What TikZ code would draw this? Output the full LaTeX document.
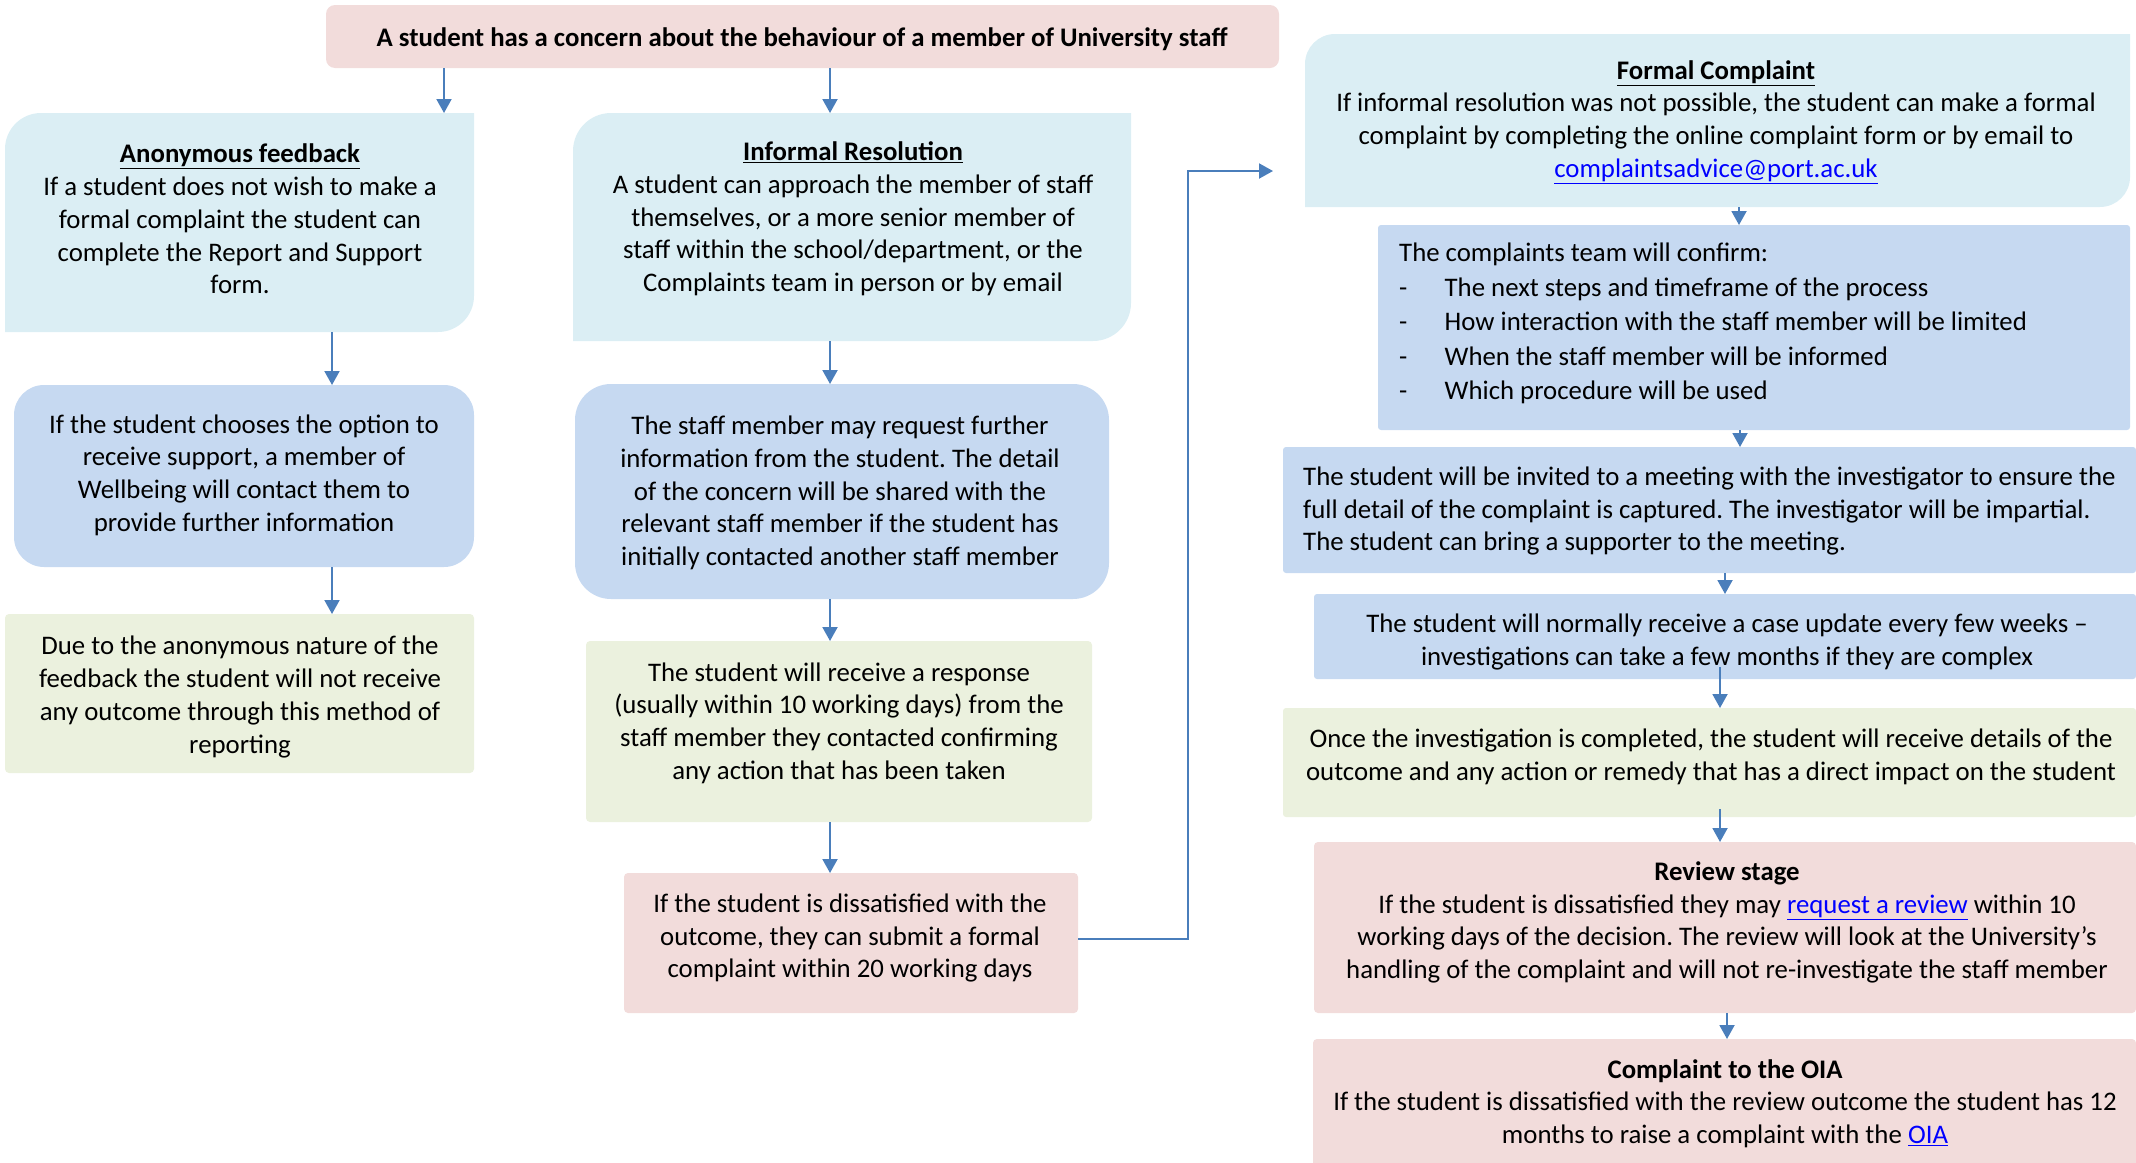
\documentclass[tikz,border=0pt]{standalone}
\usepackage{fontspec}
\setmainfont{Carlito}
\usetikzlibrary{arrows.meta}
\definecolor{hdrblue}{RGB}{219,238,244}
\definecolor{midblue}{RGB}{198,217,241}
\definecolor{pgreen}{RGB}{235,241,222}
\definecolor{ppink}{RGB}{242,220,219}
\definecolor{arrblue}{RGB}{74,126,187}
\definecolor{linkblue}{RGB}{0,0,255}
\newcommand{\lnk}[1]{\textcolor{linkblue}{\underline{#1}}}
\newcommand{\diagfill}[3]{%
  \fill[#2] (#1.south west) -- ([yshift=-#3pt]#1.north west)
    arc[start angle=180,end angle=90,radius=#3]
    -- (#1.north east) -- ([yshift=#3pt]#1.south east)
    arc[start angle=0,end angle=-90,radius=#3] -- cycle;}
\newcommand{\itm}{\makebox[45.5pt][l]{-}}
\frenchspacing
\begin{document}
\begin{tikzpicture}[x=1pt,y=1pt,
  box/.style={anchor=north west, inner sep=0pt, outer sep=0pt, draw=none},
  txt/.style={align=center, font=\fontsize{26.8}{32.7}\selectfont, inner sep=0pt},
  arr/.style={draw=arrblue, line width=2pt, -{Triangle[width=15pt,length=14pt]}},
]
\useasboundingbox (0,0) rectangle (2136,-1162);

% box shapes
\node[box, minimum width=953pt, minimum height=63pt] (top) at (326,-5) {};
\node[box, minimum width=469pt, minimum height=219pt] (anon) at (5,-113) {};
\node[box, minimum width=558pt, minimum height=228pt] (inf) at (573,-113) {};
\node[box, minimum width=460pt, minimum height=182pt] (support) at (14,-385) {};
\node[box, minimum width=534pt, minimum height=215pt] (staff) at (575,-384) {};
\node[box, minimum width=469pt, minimum height=159pt] (anonout) at (5,-614) {};
\node[box, minimum width=506pt, minimum height=181pt] (response) at (586,-641) {};
\node[box, minimum width=454pt, minimum height=140pt] (diss) at (624,-873) {};
\node[box, minimum width=825pt, minimum height=173pt] (formal) at (1305,-34) {};
\node[box, minimum width=752pt, minimum height=205pt] (team) at (1378,-225) {};
\node[box, minimum width=853pt, minimum height=126pt] (meeting) at (1283,-447) {};
\node[box, minimum width=822pt, minimum height=85pt] (update) at (1314,-594) {};
\node[box, minimum width=853pt, minimum height=109pt] (outcome) at (1283,-708) {};
\node[box, minimum width=822pt, minimum height=171pt] (review) at (1314,-842) {};
\node[box, minimum width=823pt, minimum height=140pt] (oia) at (1313,-1039) {};

% fills
\fill[ppink, rounded corners=9pt] (top.south west) rectangle (top.north east);
\diagfill{anon}{hdrblue}{36}
\diagfill{inf}{hdrblue}{38}
\fill[midblue, rounded corners=30pt] (support.south west) rectangle (support.north east);
\fill[midblue, rounded corners=36pt] (staff.south west) rectangle (staff.north east);
\fill[pgreen, rounded corners=4pt] (anonout.south west) rectangle (anonout.north east);
\fill[pgreen, rounded corners=4pt] (response.south west) rectangle (response.north east);
\fill[ppink, rounded corners=4pt] (diss.south west) rectangle (diss.north east);
\diagfill{formal}{hdrblue}{30}
\fill[midblue, rounded corners=3pt] (team.south west) rectangle (team.north east);
\fill[midblue, rounded corners=3pt] (meeting.south west) rectangle (meeting.north east);
\fill[midblue, rounded corners=3pt] (update.south west) rectangle (update.north east);
\fill[pgreen, rounded corners=3pt] (outcome.south west) rectangle (outcome.north east);
\fill[ppink, rounded corners=4pt] (review.south west) rectangle (review.north east);
\fill[ppink, rounded corners=4pt] (oia.south west) rectangle (oia.north east);

% texts
\node[txt] (toptxt) at (802,-39) {\bfseries A student has a concern about the behaviour of a member of University staff};
\node[txt] (anontxt) at (240,-219) {\textbf{\underline{Anonymous feedback}}\\If a student does not wish to make a\\formal complaint the student can\\complete the Report and Support\\form.};
\node[txt] (inftxt) at (853,-219) {\textbf{\underline{Informal Resolution}}\\A student can approach the member of staff\\themselves, or a more senior member of\\staff within the school/department, or the\\Complaints team in person or by email};
\node[txt] (supporttxt) at (244,-475) {If the student chooses the option to\\receive support, a member of\\Wellbeing will contact them to\\provide further information};
\node[txt] (stafftxt) at (840,-493) {The staff member may request further\\information from the student. The detail\\of the concern will be shared with the\\relevant staff member if the student has\\initially contacted another staff member};
\node[txt] (anonouttxt) at (240,-697) {Due to the anonymous nature of the\\feedback the student will not receive\\any outcome through this method of\\reporting};
\node[txt] (responsetxt) at (839,-723) {The student will receive a response\\(usually within 10 working days) from the\\staff member they contacted confirming\\any action that has been taken};
\node[txt] (disstxt) at (850,-938) {If the student is dissatisfied with the\\outcome, they can submit a formal\\complaint within 20 working days};
\node[txt] (formaltxt) at (1716,-122) {\textbf{\underline{Formal Complaint}}\\If informal resolution was not possible, the student can make a formal\\complaint by completing the online complaint form or by email to\\\lnk{complaintsadvice@port.ac.uk}};
\node[txt, align=left, anchor=west, font=\fontsize{26.8}{34.6}\selectfont] (teamtxt) at (1399,-323.5) {The complaints team will confirm:\\\itm The next steps and timeframe of the process\\\itm How interaction with the staff member will be limited\\\itm When the staff member will be informed\\\itm Which procedure will be used};
\node[txt, align=left, anchor=west] (meetingtxt) at (1303,-511) {The student will be invited to a meeting with the investigator to ensure the\\full detail of the complaint is captured. The investigator will be impartial.\\The student can bring a supporter to the meeting.};
\node[txt] (updatetxt) at (1727,-642) {The student will normally receive a case update every few weeks --\\investigations can take a few months if they are complex};
\node[txt] (outcometxt) at (1711,-756.5) {Once the investigation is completed, the student will receive details of the\\outcome and any action or remedy that has a direct impact on the student};
\node[txt] (reviewtxt) at (1727,-922.5) {\textbf{Review stage}\\If the student is dissatisfied they may \lnk{request a review} within 10\\working days of the decision. The review will look at the University’s\\handling of the complaint and will not re-investigate the staff member};
\node[txt] (oiatxt) at (1725,-1103.5) {\textbf{Complaint to the OIA}\\If the student is dissatisfied with the review outcome the student has 12\\months to raise a complaint with the \lnk{OIA}};

% connector x positions
\coordinate (ax1) at (444,0);
\coordinate (ax2) at (830,0);
\coordinate (ax3) at (332,0);
\coordinate (ax4) at (1739,0);
\coordinate (ax5) at (1740,0);
\coordinate (ax6) at (1725,0);
\coordinate (ax7) at (1720,0);
\coordinate (ax8) at (1727,0);
\coordinate (bend) at (1188,-171);

% connectors
\draw[arr] (top.south -| ax1) -- (anon.north -| ax1);
\draw[arr] (top.south -| ax2) -- (inf.north -| ax2);
\draw[arr] (anon.south -| ax3) -- (support.north -| ax3);
\draw[arr] (support.south -| ax3) -- (anonout.north -| ax3);
\draw[arr] (inf.south -| ax2) -- (staff.north -| ax2);
\draw[arr] (staff.south -| ax2) -- (response.north -| ax2);
\draw[arr] (response.south -| ax2) -- (diss.north -| ax2);
\draw[arr, shorten >=32pt] ([yshift=4pt]diss.east) -| (bend) -- (formal.west |- bend);
\draw[arr] (formal.south -| ax4) -- (team.north -| ax4);
\draw[arr] (team.south -| ax5) -- (meeting.north -| ax5);
\draw[arr] (meeting.south -| ax6) -- (update.north -| ax6);
\draw[arr] ([yshift=12pt]update.south -| ax7) -- (outcome.north -| ax7);
\draw[arr] ([yshift=8pt]outcome.south -| ax7) -- (review.north -| ax7);
\draw[arr] (review.south -| ax8) -- (oia.north -| ax8);
\end{tikzpicture}
\end{document}
